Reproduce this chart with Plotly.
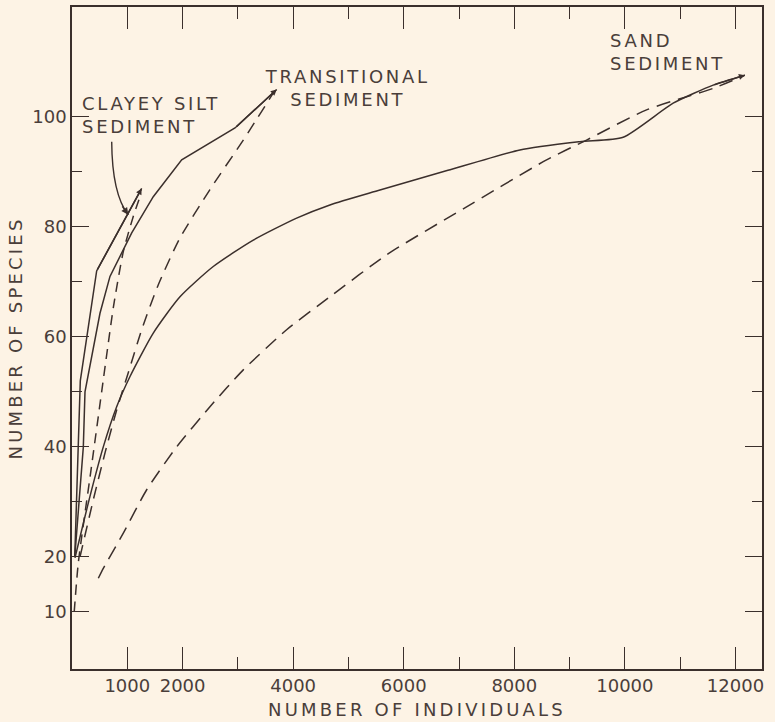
import plotly.graph_objects as go

# ---- data ----
clay_solid_x = [50, 120, 150, 446, 1260]
clay_solid_y = [20, 41, 52, 72, 87]

clay_dash_x = [40, 114, 340, 566, 750, 928, 1108, 1230]
clay_dash_y = [10, 18.9, 35.5, 52.2, 65.5, 75.5, 81.9, 85.5]

trans_solid_x = [50, 205, 235, 506, 687, 1080, 1470, 1984, 2948, 3702]
trans_solid_y = [20, 40, 50, 64.3, 71, 78.9, 85.5, 92.2, 98, 105]

trans_dash_x = [145, 386, 597, 808, 1049, 1260, 1561, 1953, 2495, 3098, 3650]
trans_dash_y = [20, 30.4, 38.9, 46.7, 54.5, 61.3, 69.5, 78, 86.8, 95.8, 104.5]

sand_solid_x = [54, 325, 566, 808, 1049, 1470, 1953, 2555, 3279, 4063, 4665, 5570,
                6800, 8101, 9186, 9969, 10873, 11597, 12170]
sand_solid_y = [19.8, 31, 40, 47.3, 52.8, 60.7, 67.3, 72.8, 77.6, 81.6, 84, 86.7,
                90.3, 94.0, 95.5, 96.3, 102.5, 105.8, 107.6]

sand_dash_x = [476, 566, 928, 1351, 1893, 2495, 3098, 3882, 4665, 5700, 7076, 8584,
               9307, 10392, 11597, 12170]
sand_dash_y = [16.1, 17.9, 24.3, 32.2, 40, 47.3, 54, 61.3, 67.3, 75.0, 83.3, 92.2,
               95.8, 101.3, 105.2, 107.6]

x_major = [1000, 2000, 4000, 6000, 8000, 10000, 12000]
x_labels = ["1000", "2000", "4000", "6000", "8000", "10000", "12000"]
x_minor = [3000, 5000, 7000, 9000, 11000]
y_major = [10, 20, 40, 60, 80, 100]
y_labels = ["10", "20", "40", "60", "80", "100"]
y_minor = [30, 50, 70, 90]

labels = ["CLAYEY SILT<br>SEDIMENT", "TRANSITIONAL<br>SEDIMENT", "SAND<br>SEDIMENT"]
label_x = [145, 4990, 9690]
label_y = [100.4, 105.2, 111.8]
label_anchor = ["left", "center", "left"]

# pointer from clayey-silt label to its curve
pointer_start = (718, 95.5)
pointer_ctrl = (725, 86)
pointer_end = (1018, 82.2)

INK = "#3b2f2c"
TEXT = "#4a3e3a"
BG = "#fdf3e5"
FONT = "DejaVu Sans"

fig = go.Figure()

series = [
    (clay_solid_x, clay_solid_y, "solid", "linear"),
    (clay_dash_x, clay_dash_y, "10px,7px", "spline"),
    (trans_solid_x, trans_solid_y, "solid", "linear"),
    (trans_dash_x, trans_dash_y, "12px,8px", "spline"),
    (sand_solid_x, sand_solid_y, "solid", "spline"),
    (sand_dash_x, sand_dash_y, "14px,8px", "spline"),
]
for xs, ys, dash, shape in series:
    ln = dict(color=INK, width=1.5, dash=dash, shape=shape)
    if shape == "spline":
        ln["smoothing"] = 0.6
    fig.add_trace(go.Scatter(x=xs, y=ys, mode="lines", line=ln,
                             showlegend=False, hoverinfo="skip"))

# arrowheads at the ends of the solid curves
for xs, ys in [(clay_solid_x, clay_solid_y), (trans_solid_x, trans_solid_y),
               (sand_solid_x, sand_solid_y)]:
    fig.add_annotation(x=xs[-1], y=ys[-1], ax=xs[-2], ay=ys[-2],
                       xref="x", yref="y", axref="x", ayref="y", text="",
                       showarrow=True, arrowhead=2, arrowsize=0.8,
                       arrowwidth=1.5, arrowcolor=INK)

# curved pointer
fig.add_shape(type="path", xref="x", yref="y",
              path=f"M {pointer_start[0]},{pointer_start[1]} Q {pointer_ctrl[0]},{pointer_ctrl[1]} {pointer_end[0]},{pointer_end[1]}",
              line=dict(color=INK, width=1.4))
fig.add_annotation(x=pointer_end[0], y=pointer_end[1], ax=-7, ay=-10,
                   xref="x", yref="y", text="", showarrow=True, arrowhead=2,
                   arrowsize=1.0, arrowwidth=1.4, arrowcolor=INK)

for t, lx, ly, an in zip(labels, label_x, label_y, label_anchor):
    fig.add_annotation(x=lx, y=ly, xref="x", yref="y", text=t, showarrow=False,
                       xanchor=an, yanchor="middle", align=an,
                       font=dict(family=FONT, size=18, color=TEXT))

axis_common = dict(showline=True, linecolor=INK, linewidth=1.5, mirror="ticks",
                   ticks="inside", tickcolor=INK, tickwidth=1.4,
                   showgrid=False, zeroline=False,
                   tickfont=dict(family=FONT, size=18, color=TEXT))

fig.update_xaxes(range=[0, 12480], tickmode="array", tickvals=x_major,
                 ticktext=x_labels, ticklen=22,
                 minor=dict(tickmode="array", tickvals=x_minor, ticklen=12,
                            tickcolor=INK, tickwidth=1.4, ticks="inside"),
                 title=dict(text="NUMBER OF INDIVIDUALS", standoff=8,
                            font=dict(family=FONT, size=18, color=TEXT)),
                 **axis_common)
fig.update_yaxes(range=[-0.4, 120], tickmode="array", tickvals=y_major,
                 ticktext=y_labels, ticklen=17,
                 minor=dict(tickmode="array", tickvals=y_minor, ticklen=10,
                            tickcolor=INK, tickwidth=1.4, ticks="inside"),
                 title=dict(text="NUMBER OF SPECIES", standoff=5,
                            font=dict(family=FONT, size=18, color=TEXT)),
                 **axis_common)

fig.update_layout(width=775, height=722,
                  margin=dict(l=72, r=13, t=7, b=53, autoexpand=False),
                  paper_bgcolor=BG, plot_bgcolor=BG)

post = """
document.body.style.margin='0';
document.body.style.background='""" + BG + """';
document.documentElement.style.overflow='hidden';
var gd = document.getElementById('{plot_id}');
gd.querySelectorAll('.annotation-text').forEach(function(t){t.style.letterSpacing='2.7px';});
gd.querySelectorAll('.xtitle, .ytitle').forEach(function(t){t.style.letterSpacing='3.2px';});
"""
fig.write_html("out.html", post_script=post, config={"displayModeBar": False})
